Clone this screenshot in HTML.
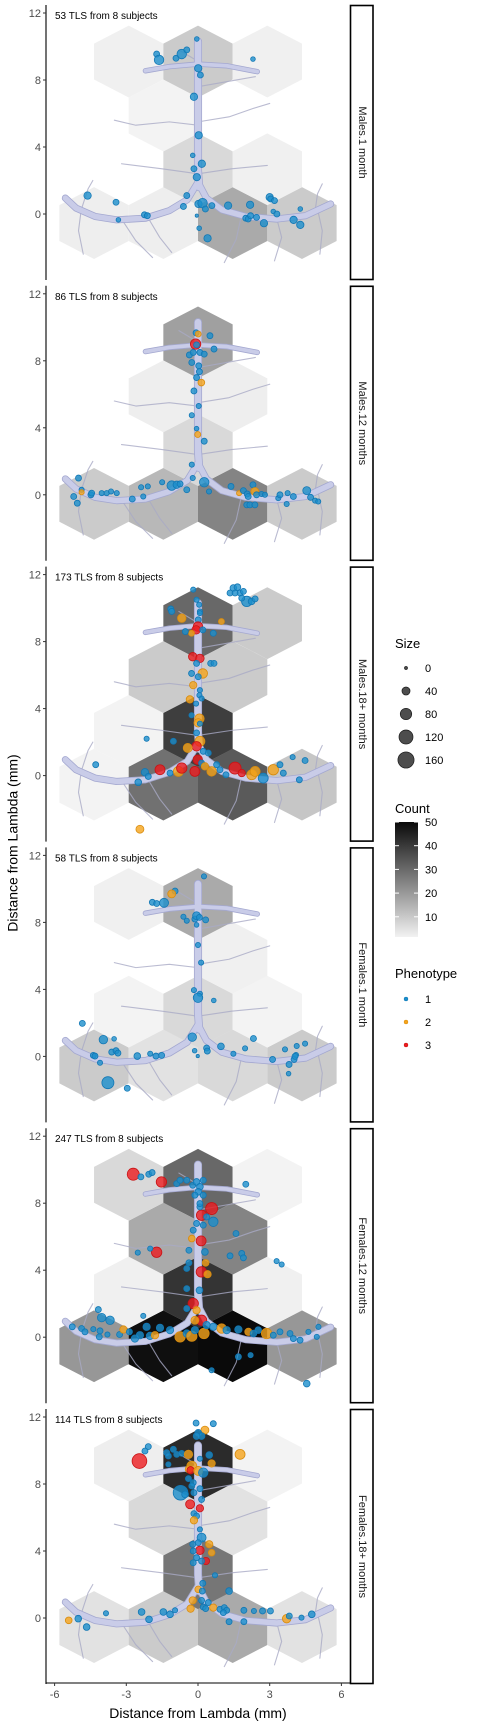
<!DOCTYPE html>
<html><head><meta charset="utf-8"><style>
html,body{margin:0;padding:0;background:#fff;}
svg{display:block;font-family:"Liberation Sans",Arial,sans-serif;}
</style></head><body>
<svg id="chart" width="480" height="1728" viewBox="0 0 480 1728" xmlns="http://www.w3.org/2000/svg">
<g id="panels"></g>
<g id="xaxis"></g>
<text x="14" y="843" transform="rotate(-90 14 843)" text-anchor="middle" font-size="14" fill="#000" dominant-baseline="middle">Distance from Lambda (mm)</text>
<text x="198" y="1718" text-anchor="middle" font-size="14" fill="#000">Distance from Lambda (mm)</text>
<g id="legend"></g>
</svg>
<script>
// ---- data ----
const facetLabels = ["Males.1 month","Males.12 months","Males.18+ months","Females.1 month","Females.12 months","Females.18+ months"];
const tlsCounts = [53,86,173,58,247,114];
const subjectCounts = [8,8,8,8,8,8];
const yTicks = [0,4,8,12];
const xTicks = [-6,-3,0,3,6];
// hexagon grid centres (data units)
const hexX = [-4.35,-1.45,1.45,4.35, -2.9,0,2.9, -4.35,-1.45,1.45,4.35, -2.9,0,2.9];
const hexY = [-0.54,-0.54,-0.54,-0.54, 2.67,2.67,2.67, 5.88,5.88,5.88,5.88, 9.1,9.1,9.1];
const hexCount1 = [1.5,1.5,16,9, 0,6,1, 0,0.5,0,0, 1,9,1];
const hexCount2 = [9,13,24,9, 0,6,0, 0,1.5,1.5,0, 0,18,0];
const hexCount3 = [0.5,28,33,10, 0.5,39,0, 0,9,9,0, 0,30,9];
const hexCount4 = [9,4,6,9, 0.5,6,0.5, 0,0,1,0, 1,16,0];
const hexCount5 = [20,49,50,20, 1,41,1, 0,16,24,0, 6,30,0.5];
const hexCount6 = [4,9,16,4, 0,27,0, 0,6,4,0, 1.5,43,0.5];
// points: [x, y, size, phenotype]
const pts1 = [[-0.05,10.45,12,1],[-1.73,9.55,20,1],[-1.63,9.2,50,1],[-0.92,9.3,20,1],[-0.68,9.55,50,1],[-0.47,9.8,20,1],[0.01,8.7,30,1],[0.1,8.3,20,1],[2.3,9.25,12,1],[-0.17,7.0,30,1],[0.03,4.7,30,1],[-0.22,3.5,12,1],[0.16,3.0,30,1],[-0.17,2.7,20,1],[-0.05,2.2,30,1],[-4.62,1.1,30,1],[-3.43,0.7,20,1],[-3.33,-0.35,12,1],[-2.24,-0.05,20,1],[-2.12,-0.1,20,1],[-0.61,0.45,20,1],[-0.47,1.1,20,1],[0.02,0.6,30,1],[0.19,0.65,50,1],[0.31,0.3,20,1],[-0.05,-0.1,6,1],[0.05,-0.85,12,1],[0.4,-1.45,30,1],[0.58,0.5,20,1],[1.26,0.5,30,1],[2.18,0.55,30,1],[2.0,-0.25,20,1],[2.1,-0.3,20,1],[2.2,-0.1,20,1],[2.45,-0.2,20,1],[2.76,-0.55,30,1],[3.0,1.0,30,1],[3.04,0.9,20,1],[3.2,0.8,20,1],[3.15,0.15,12,1],[3.3,0.0,20,1],[4.0,-0.35,30,1],[4.28,0.3,12,1],[4.28,-0.65,30,1]];
const pts2 = [[-0.08,9.67,20,1],[0.01,9.6,20,2],[0.5,9.5,20,1],[-0.1,9.0,60,3],[-0.06,8.95,20,1],[0.67,8.7,20,1],[-0.36,8.35,20,1],[-0.2,8.5,20,1],[0.08,8.5,20,1],[0.26,8.4,20,1],[-0.26,7.9,20,1],[0.03,7.7,20,1],[0.06,7.35,20,1],[-0.06,7.0,20,1],[0.14,6.7,25,2],[-0.17,6.2,20,1],[0.03,5.3,15,1],[-0.26,4.75,15,1],[-0.06,3.95,12,1],[-0.01,3.6,20,2],[0.26,3.2,20,1],[-0.26,1.8,15,1],[-0.22,1.0,15,1],[0.26,0.75,50,1],[0.46,0.2,15,1],[-5.0,1.0,20,1],[-4.87,0.3,15,1],[-4.87,0.15,15,2],[-5.2,-0.1,20,1],[-5.05,-0.5,20,1],[-4.48,0.0,20,1],[-4.45,0.1,20,1],[-4.03,0.1,15,1],[-3.82,0.1,15,1],[-3.64,0.2,15,1],[-3.4,0.1,15,1],[-2.75,-0.25,20,1],[-2.38,0.45,15,1],[-2.29,-0.1,15,1],[-2.1,0.5,15,1],[-1.5,0.75,15,1],[-1.1,0.55,50,1],[-0.89,0.6,30,1],[-0.75,0.65,20,1],[-0.47,0.3,20,1],[1.38,0.5,20,1],[1.72,0.1,15,2],[1.9,0.25,20,1],[2.06,0.05,20,1],[2.1,-0.1,20,1],[2.3,0.6,20,1],[2.38,0.2,35,2],[2.45,0.0,20,1],[2.66,0.05,15,1],[2.8,0.0,15,1],[2.04,-0.6,20,1],[2.17,-0.6,20,1],[2.38,-0.6,20,1],[3.36,-0.2,15,1],[3.43,0.0,20,1],[3.71,-0.55,15,1],[3.75,0.1,15,1],[3.99,-0.1,20,1],[4.55,0.25,35,1],[4.71,-0.15,20,1],[4.9,-0.35,15,1],[5.03,-0.4,15,1]];
const pts3 = [[-0.2,11.1,15,1],[-0.06,10.5,15,1],[0.05,10.2,15,1],[0.08,9.8,15,1],[-1.14,9.95,20,1],[-1.1,9.8,20,1],[-0.68,9.4,40,2],[0.08,9.7,15,1],[0.01,9.3,20,1],[0,8.9,50,3],[-0.08,8.7,40,3],[0.2,8.7,20,1],[-0.27,8.5,20,2],[-0.53,8.6,20,1],[0.64,8.5,20,1],[0.98,9.2,20,2],[1.48,11.2,25,1],[1.65,11.25,25,1],[1.76,10.9,20,1],[1.9,11.0,20,1],[2.04,10.4,60,1],[2.24,10.4,25,1],[2.39,10.55,20,1],[1.34,10.9,20,1],[1.55,10.9,20,1],[1.83,10.6,20,1],[-0.22,7.1,40,3],[0.08,7.0,40,3],[-0.06,6.7,20,1],[0.53,6.7,20,1],[0.67,6.7,20,1],[-0.27,6.1,20,1],[0.2,6.1,50,2],[0.01,5.9,20,1],[-0.2,5.4,30,2],[0.08,5.1,15,1],[-0.34,4.55,30,2],[0.06,4.8,15,1],[0.15,4.6,15,1],[-0.08,4.3,15,1],[-0.27,3.6,15,1],[0.06,3.4,50,2],[0.01,3.15,40,2],[0.08,3.1,15,1],[-0.06,2.55,20,1],[0.08,2.05,55,2],[-2.15,2.2,15,1],[-1.03,2.05,20,1],[-0.06,1.75,50,3],[-0.43,1.65,45,2],[0.22,1.45,20,1],[0.43,1.35,20,1],[-4.28,0.65,20,1],[-2.5,-0.4,25,1],[-2.22,0.2,30,1],[-2.08,-0.05,20,1],[-1.59,0.35,55,3],[-1.17,0.15,20,1],[-0.82,0.25,55,2],[-0.68,0.45,60,3],[-0.13,0.25,55,3],[-0.01,0.95,50,3],[0.15,0.75,20,1],[0.29,0.55,30,2],[0.57,0.25,50,2],[0.78,0.65,20,1],[0.92,0.35,20,1],[1.17,0.05,20,1],[1.55,0.45,80,3],[1.83,0.15,30,3],[2.25,0.05,55,2],[2.39,0.25,55,2],[2.73,-0.15,55,1],[3.15,0.35,60,2],[3.43,0.65,20,1],[3.57,0.15,20,1],[3.96,1.1,15,1],[4.48,0.9,20,1],[4.24,-0.25,20,1],[-2.43,-3.2,35,2]];
const pts4 = [[0.25,10.75,15,1],[-0.96,9.87,20,1],[-1.1,9.7,35,2],[-1.91,9.2,20,1],[-1.73,9.13,20,1],[-1.42,9.17,45,1],[-0.61,8.34,15,1],[-0.47,8.1,15,1],[-0.13,8.2,20,1],[-0.06,8.4,35,1],[0.06,8.3,20,1],[0.32,8.15,20,1],[-0.06,7.85,12,1],[0,6.65,15,1],[0.13,5.6,15,1],[-0.17,3.96,15,1],[0.08,3.74,15,1],[0,3.5,50,1],[0.66,3.34,12,1],[-4.84,1.97,20,1],[-3.96,1.0,40,1],[-3.51,1.05,12,1],[-3.61,0.26,20,1],[-3.43,0.34,20,1],[-3.35,0.2,20,1],[-4.38,0.06,20,1],[-4.31,0.02,20,1],[-4.1,-0.38,15,1],[-3.77,-1.57,80,1],[-2.96,-1.9,20,1],[-2.54,0.02,25,1],[-2.0,0.16,15,1],[-1.76,0.02,20,1],[-1.52,0.06,20,1],[-0.24,1.15,40,1],[-0.14,0.34,12,1],[-0.01,0.02,6,1],[0.36,0.5,20,1],[0.39,0.32,20,1],[0.96,0.6,25,1],[1.48,0.16,15,1],[1.97,0.48,15,1],[2.32,1.07,20,1],[3.12,-0.18,20,1],[3.64,0.42,15,1],[3.81,-0.48,20,1],[4.02,-0.18,20,1],[4.1,0.08,15,1],[4.13,0.62,15,1],[3.79,-1.03,12,1],[4.48,0.76,15,1],[4.06,0.0,20,1]];
const pts5 = [[-2.71,9.73,80,3],[-2.39,9.57,20,1],[-2.06,9.73,20,1],[-1.92,9.83,20,1],[-1.53,9.27,60,3],[-0.89,9.17,20,1],[-0.75,9.37,20,1],[-0.47,9.37,20,1],[-0.22,9.07,20,1],[-0.06,9.27,25,1],[0.08,8.98,25,1],[0.22,9.37,20,1],[0.01,8.68,25,1],[-0.13,8.48,20,1],[0.22,8.48,20,1],[2.0,9.13,20,1],[0.57,7.68,80,3],[0.15,7.28,60,3],[0.08,7.78,20,1],[0.64,6.89,50,1],[-0.06,6.79,20,1],[0.22,6.69,20,1],[-0.2,6.39,20,1],[-0.26,5.89,25,2],[0.13,5.75,55,3],[0.29,5.09,25,1],[-0.38,5.19,20,1],[-1.73,5.07,60,3],[-2.52,5.05,15,1],[-2.0,5.29,15,1],[1.59,6.19,20,1],[1.34,4.86,20,1],[1.83,5.0,20,1],[1.9,4.74,20,1],[3.29,4.54,15,1],[3.5,4.34,15,1],[0.32,4.44,25,2],[-0.38,4.44,20,1],[0.14,3.9,60,3],[0.4,3.76,30,2],[-0.47,4.1,20,1],[-0.47,2.9,20,1],[0.06,2.8,25,1],[-0.2,2.01,60,3],[-0.06,1.61,30,2],[-0.47,1.71,20,1],[0.15,1.01,60,3],[-0.13,1.01,35,2],[-2.29,1.27,15,1],[-4.17,1.65,20,1],[-4.03,1.17,40,1],[-3.68,1.01,40,1],[-5.26,0.62,20,1],[-4.87,0.52,20,1],[-4.73,0.32,20,1],[-4.38,0.48,15,1],[-4.1,0.38,20,1],[-4.13,0.02,20,1],[-3.79,0.16,15,1],[-3.28,0.16,20,1],[-3.12,0.46,30,2],[-2.87,0.32,20,1],[-2.64,-0.08,30,1],[-2.43,0.12,30,1],[-2.15,0.62,30,1],[-2.01,0.08,30,1],[-1.8,0.12,30,2],[-1.59,0.56,30,1],[-1.17,0.42,30,1],[-0.75,0.02,60,2],[-0.47,0.22,30,1],[-0.26,0.06,60,2],[-0.13,0.42,30,1],[0.25,0.22,60,2],[0.36,0.72,30,1],[0.64,0.62,30,1],[0.99,0.52,50,2],[1.2,0.42,30,1],[1.69,0.46,30,1],[2.11,0.32,30,2],[2.32,0.22,25,1],[2.52,0.42,25,1],[2.87,0.22,60,2],[3.15,0.12,20,1],[3.43,0.32,20,1],[3.85,0.22,20,1],[3.99,-0.08,20,1],[4.27,-0.18,20,1],[4.62,0.32,15,1],[4.97,0.02,15,1],[5.04,0.62,15,1],[1.69,-1.17,20,1],[2.2,-1.07,15,1],[0.57,-1.97,15,1],[4.55,-2.77,25,1],[0.08,7.98,20,1],[0.36,7.18,20,1]];
const pts6 = [[-0.08,11.64,20,1],[0.64,11.6,20,1],[0.29,11.22,35,2],[0.01,11.06,25,1],[0.15,10.86,25,1],[-0.06,10.86,25,1],[-2.08,10.23,20,1],[-2.22,9.97,20,1],[-2.45,9.37,120,3],[-1.31,9.87,20,1],[-1.03,10.07,20,1],[-1.24,9.67,20,1],[-0.89,9.77,20,1],[-0.68,9.83,20,1],[-0.4,9.77,40,2],[-1.24,9.17,15,1],[0.08,9.51,15,1],[0.47,9.73,25,1],[0.57,9.23,30,2],[1.76,9.77,55,2],[-0.26,9.07,55,2],[-0.38,8.88,30,2],[-0.31,8.82,30,3],[0.01,8.78,45,2],[0.22,8.68,50,1],[-0.4,8.32,20,1],[-0.2,8.08,20,1],[-0.26,7.88,20,1],[0.08,7.72,20,1],[-0.73,7.48,120,1],[-0.54,7.38,25,1],[-0.17,7.48,20,1],[0.15,7.08,20,1],[-0.33,6.79,45,3],[0.08,6.55,30,3],[-0.17,6.23,20,1],[-0.06,6.09,20,1],[-0.17,5.83,30,2],[0.08,5.29,15,1],[0.15,4.8,45,1],[0.01,4.5,20,1],[0.47,4.4,30,2],[-0.22,4.4,20,1],[0.08,4.04,40,3],[0.57,3.9,25,2],[-0.2,4.0,20,1],[-0.06,3.6,20,1],[0.33,3.4,30,3],[0.15,3.4,20,1],[-0.2,3.3,20,1],[0.71,2.55,15,1],[0.2,2.07,20,1],[0.01,1.71,25,2],[0.18,1.61,20,1],[1.3,1.61,25,1],[-0.22,1.05,30,2],[-0.31,0.56,30,2],[0.15,1.05,20,1],[0.22,0.66,20,1],[0.32,0.56,20,1],[0.43,0.92,20,1],[0.64,0.62,30,2],[0.92,0.52,20,1],[1.1,0.62,20,1],[1.2,0.46,20,1],[1.06,0.32,20,1],[1.3,-0.22,20,1],[1.92,0.46,20,1],[1.92,-0.22,20,1],[2.34,0.42,15,1],[2.7,0.42,20,1],[3.03,0.42,20,1],[3.71,-0.04,40,2],[3.82,0.12,20,1],[4.33,0.02,15,1],[4.76,0.22,25,1],[-5.41,-0.14,25,2],[-5.01,-0.04,25,1],[-4.66,-0.54,25,1],[-3.85,0.28,15,1],[-2.36,0.36,25,1],[-2.05,-0.08,25,1],[-1.45,0.36,25,1],[-1.17,0.22,25,1],[-0.96,0.46,15,1]];
const sizeLegendValues = [0,40,80,120,160];
const countLegendTicks = [10,20,30,40,50];
const phenotypeLevels = [1,2,3];

const hexCounts = [hexCount1,hexCount2,hexCount3,hexCount4,hexCount5,hexCount6];
const points = [pts1,pts2,pts3,pts4,pts5,pts6];

// ---- layout / scales ----
const NS = "http://www.w3.org/2000/svg";
const X0 = 198, XU = 23.9, YU = 16.75, STRIDE = 280.8, TICK12 = 13;
const PLEFT = 46, PRIGHT = 350;
const phenFill = {1:"#1b8fcc",2:"#f5a41c",3:"#ec1c1f"};
const phenStroke = {1:"#1277b4",2:"#d88c0e",3:"#c81214"};
function sx(v){ return X0 + v*XU; }
function syF(i){ const z = TICK12 + i*STRIDE + 12*YU; return v => z - v*YU; }
function rSize(s){ return Math.max(1.6, Math.sqrt(s/160)*8.5); }
function grayOf(c){ const g = Math.round(245 - 4.7*Math.min(c,50)); return `rgb(${g},${g},${g})`; }
function mk(tag, attrs, parent){ const e = document.createElementNS(NS, tag); for (const k in attrs) e.setAttribute(k, attrs[k]); parent.appendChild(e); return e; }

// vessel decoration (data-unit polylines)
const vesselMain = [
  {w:6.5, p:[[0,10.3],[0,8.9],[0,5],[0,2.6],[0.05,1.6]]},
  {w:3.8, p:[[-2.2,8.55],[-1.2,8.8],[0,8.95],[1.2,8.85],[2.48,8.5]]},
  {w:5.5, p:[[-5.55,0.95],[-5.1,0.35],[-4.3,-0.15],[-3.4,-0.35],[-2.2,-0.25],[-1.2,0.2],[-0.45,0.85],[0,1.9]]},
  {w:5.5, p:[[0,1.9],[0.35,0.95],[1.0,0.25],[2.0,-0.15],[3.3,-0.3],[4.5,-0.1],[5.55,0.6]]}
];
const vesselTwigs = [
  [[0,5.3],[-1.2,5.5],[-2.6,5.3],[-3.5,5.6]],[[0,5.5],[1.3,5.8],[2.3,6.3],[3.0,6.6]],
  [[0,2.4],[-1.5,2.7],[-3.2,3.0]],[[0,2.4],[1.4,2.7],[2.9,2.9]],
  [[0,7.6],[1.2,7.9],[2.4,8.2]],[[-0.1,9.2],[-0.8,9.8]],
  [[-4.9,0.1],[-5.0,-1.0],[-4.8,-2.4]],[[-4.9,0.2],[-4.6,1.5],[-4.4,2.0]],
  [[-3.2,-0.3],[-2.6,-1.6],[-1.9,-2.6]],[[-2.1,-0.2],[-1.6,-1.4],[-1.1,-2.3]],
  [[1.8,-0.2],[1.6,-1.5],[1.1,-2.9]],[[3.3,-0.3],[3.5,-1.4],[3.2,-2.8]],
  [[5.0,0.3],[5.2,-1.0],[5.1,-2.4]],[[4.9,0.2],[5.0,1.2],[5.2,1.8]]
];

const panelsG = document.getElementById('panels');
for (let i = 0; i < 6; i++) {
  const sy = syF(i);
  const top = TICK12 + i*STRIDE - 8, bot = sy(0) + 66;
  const g = mk('g', {}, panelsG);
  
  
  // hexes
  const hexG = mk('g', {}, g);
  
  
  const w = 1.45*XU, h = 35.9;
  hexCounts[i].forEach((c, k) => {
    if (!c) return;
    const cx = sx(hexX[k]), cy = sy(hexY[k]);
    const pts = [[cx,cy-h],[cx+w,cy-h/2],[cx+w,cy+h/2],[cx,cy+h],[cx-w,cy+h/2],[cx-w,cy-h/2]].map(p=>p.join(',')).join(' ');
    const hx = mk('polygon', {points: pts, fill: grayOf(c)}, hexG);
    
    
  });
  // vessel
  const vG = mk('g', {fill:'none','stroke-linecap':'round','stroke-linejoin':'round'}, g);
  
  
  vesselTwigs.forEach(t => {
    mk('polyline', {points: t.map(p=>sx(p[0])+','+sy(p[1])).join(' '), stroke:'#a9aac6', 'stroke-width':1.1, opacity:0.8}, vG);
  });
  vesselMain.forEach(v => {
    mk('polyline', {points: v.p.map(p=>sx(p[0])+','+sy(p[1])).join(' '), stroke:'#a4a8d0', 'stroke-width':v.w+1.6}, vG);
  });
  vesselMain.forEach(v => {
    mk('polyline', {points: v.p.map(p=>sx(p[0])+','+sy(p[1])).join(' '), stroke:'#c9cce8', 'stroke-width':v.w}, vG);
  });
  // points
  const pG = mk('g', {}, g);
  
  
  points[i].forEach(d => {
    const c = mk('circle', {cx: sx(d[0]), cy: sy(d[1]), r: rSize(d[2]), fill: phenFill[d[3]], stroke: phenStroke[d[3]], 'stroke-width':0.8, 'fill-opacity':0.8}, pG);
    
    
  });
  // annotation
  const an = mk('text', {x:55, y: top+14, 'font-size':10, fill:'#000'}, g);
  an.textContent = tlsCounts[i] + ' TLS from ' + subjectCounts[i] + ' subjects';
  
  
  // y axis
  const ax = mk('line', {x1:PLEFT, x2:PLEFT, y1:top, y2:bot, stroke:'#000','stroke-width':1.1}, g);
  
  
  yTicks.forEach(t => {
    const y = sy(t);
    const tk = mk('line', {x1:PLEFT-3, x2:PLEFT, y1:y, y2:y, stroke:'#333','stroke-width':1}, g);
    
    
    const tl = mk('text', {x:PLEFT-5, y:y+4, 'text-anchor':'end', 'font-size':11, fill:'#4d4d4d'}, g);
    tl.textContent = t;
    
    
  });
  // strip
  const st = mk('rect', {x:350.5, y:top+0.5, width:22.5, height:bot-top-1, fill:'#fff', stroke:'#000','stroke-width':1.6}, g);
  
  
  const mid = (top+bot)/2;
  const sl = mk('text', {x:362, y:mid, 'text-anchor':'middle', 'dominant-baseline':'middle', 'font-size':11, fill:'#1a1a1a', transform:`rotate(90 362 ${mid})`}, g);
  sl.textContent = facetLabels[i];
  
  
}

// x axis
const xa = document.getElementById('xaxis');
const xl = mk('line', {x1:PLEFT, x2:PRIGHT, y1:1683, y2:1683, stroke:'#000','stroke-width':1.1}, xa);


xTicks.forEach(t => {
  const x = sx(t);
  const tk = mk('line', {x1:x, x2:x, y1:1683, y2:1686, stroke:'#333'}, xa);
  
  
  const tl = mk('text', {x:x, y:1698, 'text-anchor':'middle', 'font-size':11, fill:'#4d4d4d'}, xa);
  tl.textContent = t;
  
  
});

// legend
const lg = document.getElementById('legend');
const t1 = mk('text', {x:395, y:648, 'font-size':13, fill:'#000'}, lg);
t1.textContent = 'Size';


sizeLegendValues.forEach((v, k) => {
  const y = 668 + k*23;
  const c = mk('circle', {cx:406, cy:y, r: v===0 ? 1.5 : rSize(v)*0.95, fill:'#4d4d4d', stroke:'#1a1a1a', 'stroke-width':0.7}, lg);
  
  
  const tx = mk('text', {x:425, y:y+4, 'font-size':11, fill:'#000'}, lg);
  tx.textContent = v;
  
  
});
const t2 = mk('text', {x:395, y:813, 'font-size':13, fill:'#000'}, lg);
t2.textContent = 'Count';


const defs = mk('defs', {}, lg);
const grad = mk('linearGradient', {id:'cg', x1:0, y1:1, x2:0, y2:0}, defs);
mk('stop', {offset:0, 'stop-color':'#f2f2f2'}, grad);
mk('stop', {offset:1, 'stop-color':'#0a0a0a'}, grad);
const cb = mk('rect', {x:395, y:822, width:23, height:115, fill:'url(#cg)'}, lg);


countLegendTicks.forEach(v => {
  const y = 822 + (50 - v)*2.37;
  mk('line', {x1:395, x2:399, y1:y, y2:y, stroke:'#fff'}, lg);
  mk('line', {x1:414, x2:418, y1:y, y2:y, stroke:'#fff'}, lg);
  const tx = mk('text', {x:425, y:y+4, 'font-size':11, fill:'#000'}, lg);
  tx.textContent = v;
  
  
});
const t3 = mk('text', {x:395, y:978, 'font-size':13, fill:'#000'}, lg);
t3.textContent = 'Phenotype';


phenotypeLevels.forEach((p, k) => {
  const y = 999 + k*23;
  const c = mk('circle', {cx:406, cy:y, r:2, fill:phenFill[p], stroke:phenStroke[p], 'stroke-width':0.5}, lg);
  
  
  const tx = mk('text', {x:425, y:y+4, 'font-size':11, fill:'#000'}, lg);
  tx.textContent = p;
  
  
});
</script>
</body></html>
